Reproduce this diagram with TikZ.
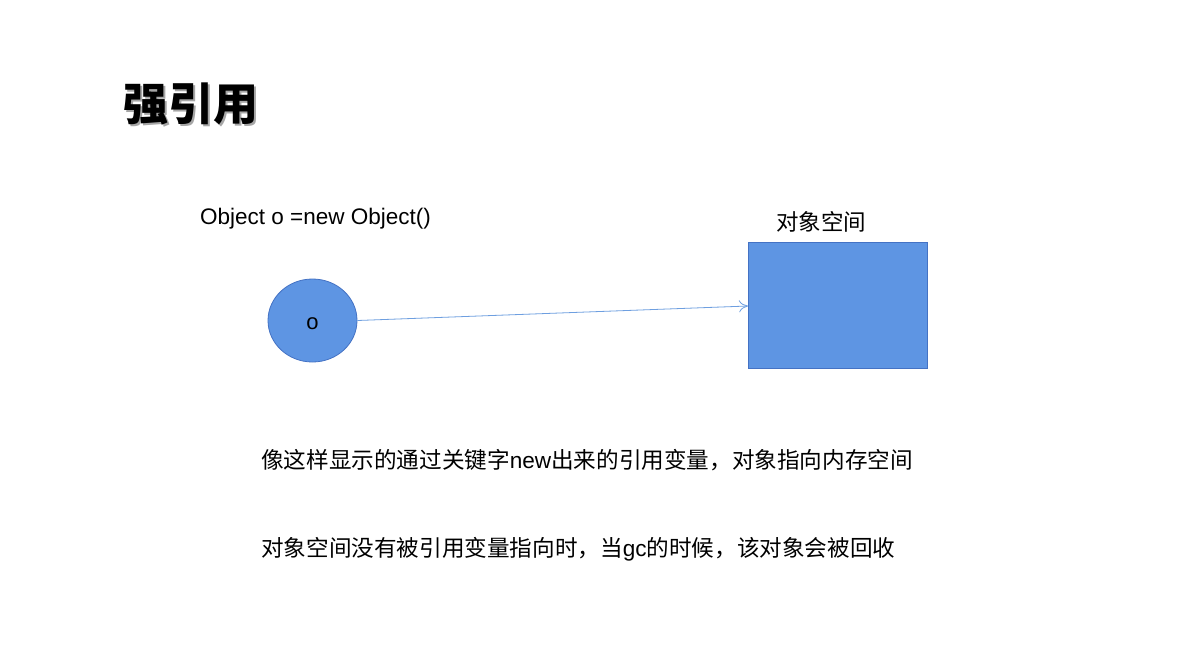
\documentclass[tikz,border=0pt]{standalone}
\usepackage{fontspec}
\setmainfont{Liberation Sans}
\newfontfamily\cjk{Noto Sans CJK SC}
\usetikzlibrary{arrows.meta,shapes.geometric}
\definecolor{boxfill}{HTML}{5E95E3}
\definecolor{boxline}{HTML}{4472C4}
\definecolor{refline}{HTML}{6E9FE0}
\tikzset{
  objshape/.style={fill=boxfill, draw=boxline, line width=0.8pt},
  caption/.style={inner sep=0pt, anchor=base west, font=\fontsize{22.6}{26}\selectfont},
  reflink/.style={draw=refline, line width=0.8pt, -{To[length=9pt,width=12pt]}}
}
\begin{document}
\begin{tikzpicture}[x=1pt,y=-1pt]
  \useasboundingbox[fill=white] (0,0) rectangle (1198,659);
  % heading with soft shadow
  \node[inner sep=0pt, anchor=base west, text=black!35, font=\fontsize{45}{50}\selectfont\cjk\bfseries]
    (titleshadow) at (125,122) {强引用};
  \node[inner sep=0pt, anchor=base west, font=\fontsize{45}{50}\selectfont\cjk\bfseries]
    (title) at (123,120.5) {强引用};
  % reference variable and object space
  \node[caption, font=\fontsize{22.5}{26}\selectfont] (decl) at (200,224) {Object o =new Object()};
  \node[objshape, ellipse, minimum width=89pt, minimum height=83pt, inner sep=0pt] (o) at (312.5,320.5) {};
  \node[inner sep=0pt, anchor=base, font=\fontsize{22}{26}\selectfont] (olabel) at (312.5,329) {o};
  \node[objshape, rectangle, minimum width=179pt, minimum height=126pt, inner sep=0pt, anchor=north west] (space) at (748,242) {};
  \node[caption, font=\fontsize{22.5}{26}\selectfont\cjk] (spacelabel) at (776,230) {对象空间};
  \coordinate (tip) at (748,306);
  \draw[reflink] (o.east) -- (tip);
  % explanation lines
  \node[caption] (line1) at (261,468) {\cjk 像这样显示的通过关键字{\rmfamily new}出来的引用变量，对象指向内存空间};
  \node[caption] (line2) at (261,556) {\cjk 对象空间没有被引用变量指向时，当{\rmfamily gc}的时候，该对象会被回收};
\end{tikzpicture}
\end{document}
